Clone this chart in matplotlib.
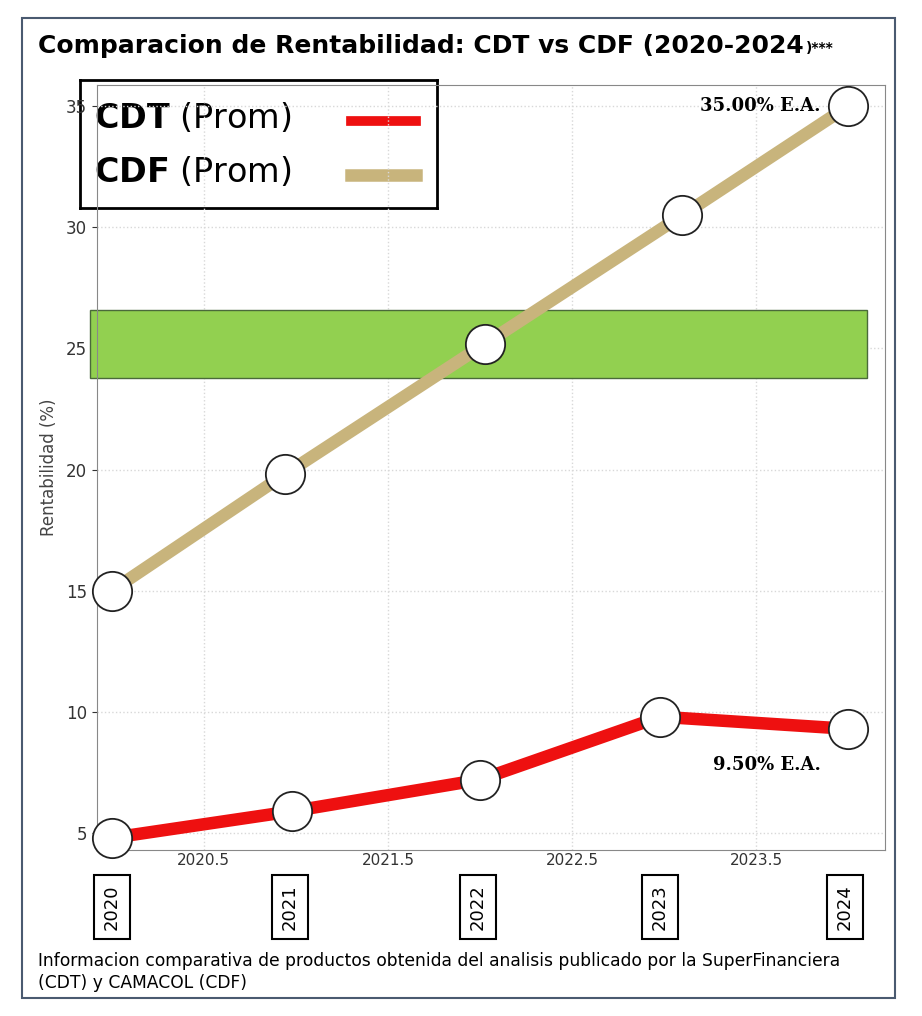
import matplotlib.pyplot as plt
from matplotlib.patches import Rectangle

years = [2020, 2021, 2022, 2023, 2024]
cdf_x = [2020.0, 2020.94, 2022.03, 2023.1, 2024.0]
cdf_y = [15.0, 19.8, 25.2, 30.5, 35.0]
cdt_x = [2020.0, 2020.98, 2022.0, 2022.98, 2024.0]
cdt_y = [4.8, 5.9, 7.2, 9.8, 9.3]
minor_ticks = [2020.5, 2021.5, 2022.5, 2023.5]

fig = plt.figure(figsize=(9.22, 10.16), dpi=100)
fig.patches.append(Rectangle((22 / 922, 18 / 1016), 873 / 922, 980 / 1016, transform=fig.transFigure,
                             fill=False, edgecolor='#4a5a70', linewidth=1.5))

# legend box (drawn under the main axes so the y tick labels stay visible)
lg = fig.add_axes([80 / 922, 1 - 208 / 1016, 357 / 922, 128 / 1016])
lg.set_zorder(1)
lg.set_xlim(0, 1); lg.set_ylim(0, 1)
lg.set_xticks([]); lg.set_yticks([])
for s in lg.spines.values():
    s.set_linewidth(2); s.set_color('black')
lg.text(0.04, 0.7, r'$\bf{CDT}$ (Prom)', fontsize=24, va='center', family='DejaVu Sans')
lg.text(0.04, 0.28, r'$\bf{CDF}$ (Prom)', fontsize=24, va='center', family='DejaVu Sans')
lg.plot([0.76, 0.94], [0.68, 0.68], color='#ee1010', linewidth=7)
lg.plot([0.76, 0.94], [0.26, 0.26], color='#c8b47c', linewidth=9)

ax = fig.add_axes([97 / 922, 1 - 850 / 1016, 788 / 922, 765 / 1016])
ax.set_zorder(2)
ax.patch.set_alpha(0)
ax.set_xlim(2019.92, 2024.2)
ax.set_ylim(4.3, 35.87)

ax.add_patch(Rectangle((2019.88, 23.76), 4.22, 2.84, facecolor='#92d050', edgecolor='#4a6a3a',
                       linewidth=1, zorder=2, clip_on=False))
ax.plot(cdf_x, cdf_y, color='#c8b47c', linewidth=9, zorder=3, solid_capstyle='butt')
ax.plot(cdt_x, cdt_y, color='#ee1010', linewidth=9, zorder=3)
ax.scatter(cdf_x, cdf_y, s=800, facecolor='white', edgecolor='#222', linewidth=1.3, zorder=4, clip_on=False)
ax.scatter(cdt_x, cdt_y, s=800, facecolor='white', edgecolor='#222', linewidth=1.3, zorder=4, clip_on=False)

ax.grid(True, color='#d8d8d8', linestyle=':', linewidth=1)
ax.set_xticks(minor_ticks)
ax.set_xticklabels([str(t) for t in minor_ticks], fontsize=11, color='#333', family='Liberation Sans Narrow')
ax.tick_params(axis='x', length=0, pad=2)
ax.tick_params(axis='y', labelsize=12, colors='#333')
ax.set_yticks([5, 10, 15, 20, 25, 30, 35])
ax.set_ylabel('Rentabilidad (%)', fontsize=12, color='#444', labelpad=6)
for s in ax.spines.values():
    s.set_color('#888')

ax.text(2023.85, 35.0, '35.00% E.A.', ha='right', va='center', fontsize=13, fontweight='bold',
        family='DejaVu Serif', zorder=5)
ax.text(2023.85, 7.8, '9.50% E.A.', ha='right', va='center', fontsize=13, fontweight='bold',
        family='DejaVu Serif', zorder=5)

# year boxes
for y, px in zip(years, [112, 290, 478, 660, 845]):
    fig.text(px / 922, 1 - 907 / 1016, str(y), rotation=90, ha='center', va='center', fontsize=13,
             bbox=dict(boxstyle='square,pad=0.5', facecolor='white', edgecolor='black', linewidth=1.5))

fig.text(38 / 922, 1 - 46 / 1016, 'Comparacion de Rentabilidad: CDT vs CDF (2020-2024', fontsize=18,
         fontweight='bold', va='center')
fig.text(806 / 922, 1 - 48 / 1016, ')***', fontsize=10, fontweight='bold', va='center')
fig.text(38 / 922, 1 - 972 / 1016,
         'Informacion comparativa de productos obtenida del analisis publicado por la SuperFinanciera\n(CDT) y CAMACOL (CDF)',
         fontsize=12.3, va='center', linespacing=1.3)

fig.savefig('out.png', dpi=100)
